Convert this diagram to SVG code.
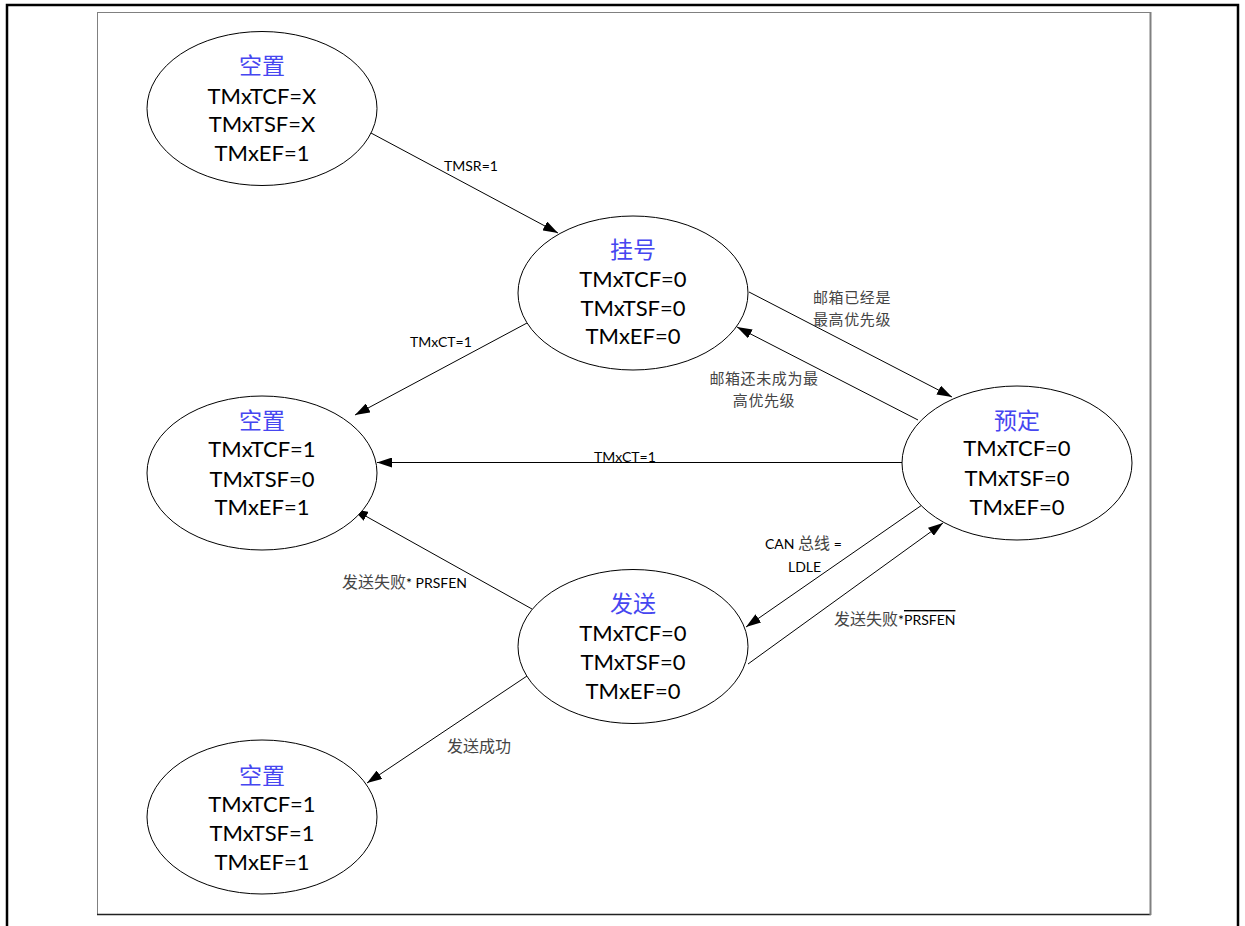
<svg xmlns="http://www.w3.org/2000/svg" width="1245" height="926" viewBox="0 0 1245 926">
<style>
.node ellipse{fill:#fff;stroke:#000;stroke-width:1}
.title{font-family:"Noto Sans CJK SC",sans-serif;font-size:23px;fill:#4646f0;text-anchor:middle}
.val{font-family:Lato,"Noto Sans CJK SC",sans-serif;font-size:22px;fill:#000;text-anchor:middle}
.conn line{stroke:#000;stroke-width:1;fill:none}
.lbl{font-family:Lato,"Noto Sans CJK SC",sans-serif;font-size:14px;fill:#000}
.cn{font-family:"Noto Sans CJK SC",sans-serif;font-size:16px;fill:#444}
.cn2{font-family:"Noto Sans CJK SC",sans-serif;font-size:15px;fill:#444;letter-spacing:0.6px}
</style>
<defs>
<marker id="ah" viewBox="0 0 15 10" refX="15" refY="5" markerWidth="15" markerHeight="10" markerUnits="userSpaceOnUse" orient="auto">
<path d="M0,0 L15,5 L0,10 z" fill="#000"/>
</marker>
</defs>
<rect width="1245" height="926" fill="#fff"/>
<path d="M7,930 L7,5 L1238,5 L1238,930" fill="none" stroke="#000" stroke-width="2.5"/>
<rect x="97.5" y="12.5" width="1053" height="902" fill="none" stroke="#808080" stroke-width="1"/>
<line x1="97" y1="914.5" x2="1151" y2="914.5" stroke="#222" stroke-width="1.5"/>
<line x1="1150.5" y1="12" x2="1150.5" y2="915" stroke="#808080" stroke-width="2"/>

<g class="conn">
<line x1="371" y1="133" x2="558" y2="233" marker-end="url(#ah)"/>
<line x1="527" y1="323" x2="355" y2="415" marker-end="url(#ah)"/>
<line x1="749" y1="292" x2="952" y2="397" marker-end="url(#ah)"/>
<line x1="918" y1="420" x2="737" y2="327" marker-end="url(#ah)"/>
<line x1="902" y1="462.5" x2="377" y2="462.5" marker-end="url(#ah)"/>
<line x1="532" y1="609" x2="353" y2="509" marker-end="url(#ah)"/>
<line x1="922" y1="505" x2="746" y2="627" marker-end="url(#ah)"/>
<line x1="748" y1="664" x2="943" y2="523" marker-end="url(#ah)"/>
<line x1="527" y1="676" x2="367" y2="783" marker-end="url(#ah)"/>
</g>

<g id="labels">
<text class="lbl" x="444" y="171">TMSR=1</text>
<text class="lbl" x="410" y="347">TMxCT=1</text>
<text class="cn2" x="813" y="303">邮箱已经是<tspan x="813" dy="22">最高优先级</tspan></text>
<text class="cn2" x="764" y="384" text-anchor="middle">邮箱还未成为最<tspan x="764" dy="22">高优先级</tspan></text>
<text class="lbl" x="594" y="462">TMxCT=1</text>
<text class="lbl" x="342" y="588"><tspan class="cn">发送失败</tspan>* PRSFEN</text>
<text class="lbl" x="765" y="549">CAN <tspan class="cn">总线</tspan> =</text>
<text class="lbl" x="788" y="572">LDLE</text>
<text class="lbl" x="834" y="625"><tspan class="cn">发送失败</tspan>*<tspan text-decoration="overline">PRSFEN</tspan></text>
<text class="cn" x="447" y="752">发送成功</text>
</g>

<g id="n1" class="node">
<ellipse cx="262" cy="108.5" rx="115" ry="77"/>
<text class="title" x="262" y="74">空置</text>
<text class="val" x="262" y="104">TMxTCF=X</text>
<text class="val" x="262" y="132">TMxTSF=X</text>
<text class="val" x="262" y="161">TMxEF=1</text>
</g>
<g id="n2" class="node">
<ellipse cx="633" cy="293" rx="115" ry="77"/>
<text class="title" x="633" y="258">挂号</text>
<text class="val" x="633" y="287">TMxTCF=0</text>
<text class="val" x="633" y="316">TMxTSF=0</text>
<text class="val" x="633" y="344">TMxEF=0</text>
</g>
<g id="n3" class="node">
<ellipse cx="262" cy="473" rx="115" ry="77"/>
<text class="title" x="262" y="429">空置</text>
<text class="val" x="262" y="457">TMxTCF=1</text>
<text class="val" x="262" y="487">TMxTSF=0</text>
<text class="val" x="262" y="515">TMxEF=1</text>
</g>
<g id="n4" class="node">
<ellipse cx="1017" cy="463" rx="115" ry="77"/>
<text class="title" x="1017" y="429">预定</text>
<text class="val" x="1017" y="456">TMxTCF=0</text>
<text class="val" x="1017" y="486">TMxTSF=0</text>
<text class="val" x="1017" y="515">TMxEF=0</text>
</g>
<g id="n5" class="node">
<ellipse cx="633" cy="646.5" rx="115" ry="77"/>
<text class="title" x="633" y="612">发送</text>
<text class="val" x="633" y="641">TMxTCF=0</text>
<text class="val" x="633" y="670">TMxTSF=0</text>
<text class="val" x="633" y="699">TMxEF=0</text>
</g>
<g id="n6" class="node">
<ellipse cx="262" cy="817" rx="115" ry="77"/>
<text class="title" x="262" y="784">空置</text>
<text class="val" x="262" y="812">TMxTCF=1</text>
<text class="val" x="262" y="841">TMxTSF=1</text>
<text class="val" x="262" y="870">TMxEF=1</text>
</g>
</svg>
